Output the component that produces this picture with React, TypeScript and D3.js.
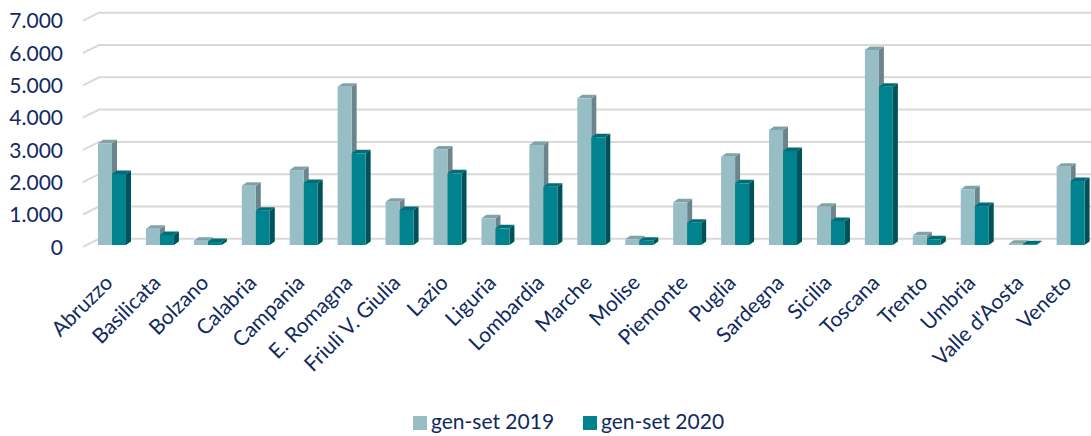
import React, { useRef, useEffect } from 'react';
import * as d3 from 'd3';

const regions = [
  'Abruzzo', 'Basilicata', 'Bolzano', 'Calabria', 'Campania', 'E. Romagna',
  'Friuli V. Giulia', 'Lazio', 'Liguria', 'Lombardia', 'Marche', 'Molise',
  'Piemonte', 'Puglia', 'Sardegna', 'Sicilia', 'Toscana', 'Trento', 'Umbria',
  "Valle d'Aosta", 'Veneto',
];
const values2019 = [3150, 505, 135, 1835, 2320, 4900, 1340, 2960, 825, 3095, 4540, 175, 1320, 2735, 3560, 1185, 6035, 300, 1725, 40, 2425];
const values2020 = [2200, 310, 95, 1060, 1920, 2840, 1085, 2220, 515, 1805, 3335, 130, 690, 1910, 2910, 745, 4900, 175, 1205, 25, 1980];
const seriesNames = ['gen-set 2019', 'gen-set 2020'];
const yTicks = [0, 1000, 2000, 3000, 4000, 5000, 6000, 7000];

const App = () => {
  const svgRef = useRef(null);

  useEffect(() => {
    const svg = d3.select(svgRef.current);
    svg.selectAll('*').remove();

    const width = 1091;
    const navy = '#10295f';
    const font = 'Lato, "Noto Sans", sans-serif';
    // fill colours: front, top, side
    const colors = [
      { front: '#98bec5', top: '#80a3a9', side: '#6a858b' },
      { front: '#00838f', top: '#006d77', side: '#00525a' },
    ];
    const depth = { dx: 5, dy: -3.5 };
    const wall = { dx: 16, dy: -8 }; // front edge -> back wall

    const locale = d3.formatLocale({ decimal: ',', thousands: '.', grouping: [3], currency: ['€', ''] });
    const fmt = locale.format(',d');

    const y = d3.scaleLinear().domain([0, 7000]).range([245, 245 - 7 * 32.3]);

    const x = d3.scaleBand()
      .domain(regions)
      .range([98, 98 + 20 * 47.93 + 28])
      .paddingInner(0.416)
      .paddingOuter(0);

    const xs = d3.scaleBand().domain(seriesNames).range([0, x.bandwidth()]);

    // gridlines on back wall with short slanted floor part
    const grid = svg.append('g');
    yTicks.forEach((t) => {
      const yb = y(t) - 6.2;
      grid.append('path')
        .attr('d', `M83,${yb - wall.dy}L${83 + wall.dx},${yb}L${width},${yb}`)
        .attr('fill', 'none')
        .attr('stroke', '#d9d9d9')
        .attr('stroke-width', 2);
    });

    // y labels
    svg.append('g')
      .selectAll('text')
      .data(yTicks)
      .enter()
      .append('text')
      .attr('x', 63)
      .attr('y', (d) => y(d) + 2 + 7.5)
      .attr('text-anchor', 'end')
      .attr('font-family', font)
      .attr('font-size', 21)
      .attr('fill', navy)
      .text((d) => fmt(d));

    // bars
    const bars = svg.append('g');
    const y0 = y(0);
    regions.forEach((r, i) => {
      [values2019[i], values2020[i]].forEach((v, s) => {
        const bx = (x(r) as number) + (xs(seriesNames[s]) as number);
        const w = xs.bandwidth();
        const by = y(v);
        const c = colors[s];
        const g = bars.append('g');
        g.append('path')
          .attr('d', `M${bx + w},${by}L${bx + w + depth.dx},${by + depth.dy}L${bx + w + depth.dx},${y0 + depth.dy}L${bx + w},${y0}Z`)
          .attr('fill', c.side);
        g.append('path')
          .attr('d', `M${bx},${by}L${bx + depth.dx},${by + depth.dy}L${bx + w + depth.dx},${by + depth.dy}L${bx + w},${by}Z`)
          .attr('fill', c.top);
        g.append('rect')
          .attr('x', bx)
          .attr('y', by)
          .attr('width', w)
          .attr('height', y0 - by)
          .attr('fill', c.front);
      });
    });

    // x labels
    svg.append('g')
      .selectAll('text')
      .data(regions)
      .enter()
      .append('text')
      .attr('transform', (d) => `translate(${(x(d) as number) + x.bandwidth() / 2 + 2},284) rotate(-45)`)
      .attr('text-anchor', 'end')
      .attr('font-family', font)
      .attr('font-size', 21)
      .attr('fill', navy)
      .text((d) => d);

    // legend
    const legend = svg.append('g');
    const legendX = [413, 583];
    seriesNames.forEach((name, s) => {
      legend.append('rect')
        .attr('x', legendX[s])
        .attr('y', 416)
        .attr('width', 14)
        .attr('height', 14)
        .attr('fill', colors[s].front);
      legend.append('text')
        .attr('x', legendX[s] + 18)
        .attr('y', 429)
        .attr('font-family', font)
        .attr('font-size', 21)
        .attr('fill', navy)
        .text(name);
    });
  }, []);

  return (
    <svg
      ref={svgRef}
      width={1091}
      height={436}
      style={{ position: 'absolute', left: 0, top: 0, background: '#fff' }}
    />
  );
};

export default App;
